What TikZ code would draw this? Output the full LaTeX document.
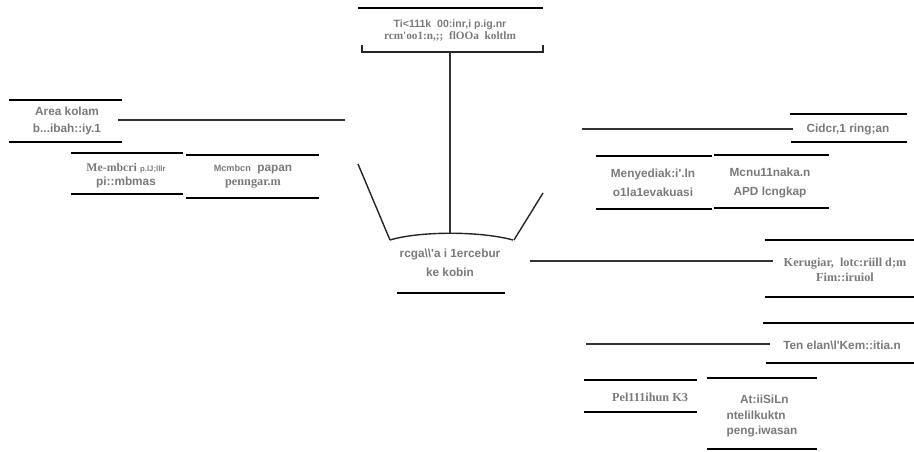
\documentclass[tikz,border=0pt]{standalone}
\usepackage{fontspec}
\setmainfont{Liberation Serif}
\setsansfont{Liberation Sans}
\usetikzlibrary{positioning}
\tikzset{
    lbl/.style = {font=\sffamily\bfseries\fontsize{8.4}{12}\selectfont, text=black!52, align=center, inner sep=0pt},
    serlbl/.style = {lbl, font=\rmfamily\bfseries\fontsize{8.7}{12}\selectfont},
    boxline/.style = {line width=2.1pt, black},
    bone/.style = {line width=1.1pt, black!80},
    headline/.style = {line width=1pt, black!85}
    }

\begin{document}
\begin{tikzpicture}[x=0.025cm, y=-0.025cm]
    \useasboundingbox (0,0) rectangle (914,452);

    % head of the diagram
    \node[lbl] (top) at (450,30.5) {{\fontsize{7.5}{10}\selectfont Ti<111k\ \ 00:inr,i p.ig.nr}\\[-3pt]
        {\rmfamily\fontsize{8}{10}\selectfont rcm\textquotesingle oo1:n,;;\ \ flOOa\ \ koltlm}};
    \draw[boxline] (358,8) -- (543,8);
    \draw[headline] (362,45) -- (362,52) -- (543,52) -- (543,45);
    \coordinate (head) at (450,52);

    \node[lbl] (centre) at (450,262.5) {rcga\textbackslash\textbackslash\textquotesingle a i 1ercebur\\[1.5pt] ke kobin};
    \draw[boxline] (397,293) -- (505,293);
    \coordinate (apex) at (450,233.3);
    \draw[headline] (390,240) .. controls (420,231) and (480,231) .. (513,240);
    \draw[headline] (358,164) -- (390,240);
    \draw[headline] (543,193) -- (514,240);
    \draw[bone] (head) -- (apex);

    % left side
    \node[lbl] (area) at (67,121) {Area kolam\\ b...ibah::iy.1};
    \draw[boxline] (9,100) -- (122,100);
    \draw[boxline] (9,142) -- (122,142);
    \coordinate (areaend) at (118,120);
    \coordinate (areaspine) at (345,120);
    \draw[bone] (areaend) -- (areaspine);

    \node[lbl] (rambu) at (126,175.5) {{\rmfamily Me-mbcri} {\fontsize{5.5}{6}\selectfont p.lJ;lllr}\\[-2.5pt] pi::mbmas};
    \draw[boxline] (71,153) -- (183,153);
    \draw[boxline] (71,194) -- (183,194);

    \node[lbl] (papan) at (253,176.5) {{\fontsize{6.5}{8}\selectfont Mcmbcn}\ \ papan\\[-2.5pt] {\rmfamily\fontsize{8.7}{10}\selectfont penngar.m}};
    \draw[boxline] (186,155) -- (319,155);
    \draw[boxline] (186,198) -- (319,198);

    % right side
    \node[lbl] (cidera) at (848,129) {Cidcr,1 ring;an};
    \draw[boxline] (790,114) -- (907,114);
    \draw[boxline] (791,142) -- (907,142);
    \coordinate (cideraend) at (793,129);
    \coordinate (cideraspine) at (582,129);
    \draw[bone] (cideraspine) -- (cideraend);

    \node[lbl] (evakuasi) at (653,182.5) {Menyediak:i\textquotesingle.ln\\[1.5pt] o1la1evakuasi};
    \draw[boxline] (596,156) -- (712,156);
    \draw[boxline] (596,209) -- (712,209);

    \node[lbl] (apd) at (770,182.5) {Mcnu11naka.n\\[1.5pt] APD lcngkap};
    \draw[boxline] (714,155) -- (829,155);
    \draw[boxline] (714,208) -- (829,208);

    \node[serlbl] (rugi) at (845,269.5) {Kerugiar,\ \ lotc:riill d;m\\[-1.5pt] Fim::iruiol};
    \draw[boxline] (765,240) -- (914,240);
    \draw[boxline] (765,297) -- (914,297);
    \coordinate (rugispine) at (530,261);
    \coordinate (rugiend) at (773,261);
    \draw[bone] (rugispine) -- (rugiend);

    \node[lbl] (tenaga) at (842,345) {Ten elan\textbackslash l\textquotesingle Kem::itia.n};
    \draw[boxline] (763,323) -- (914,323);
    \draw[boxline] (766,363) -- (914,363);
    \coordinate (tenagaspine) at (586,344);
    \coordinate (tenagaend) at (770,344);
    \draw[bone] (tenagaspine) -- (tenagaend);

    \node[serlbl] (latih) at (650,397) {Pel111ihun K3};
    \draw[boxline] (584,380) -- (697,380);
    \draw[boxline] (584,412) -- (697,412);

    \node[lbl, align=left] (awas) at (762,416) {\hspace*{1.15em}At:iiSiLn\\[-1pt] ntelilkuktn\\[-1pt] peng.iwasan};
    \draw[boxline] (707,378) -- (817,378);
    \draw[boxline] (707,449) -- (817,449);
\end{tikzpicture}
\end{document}
